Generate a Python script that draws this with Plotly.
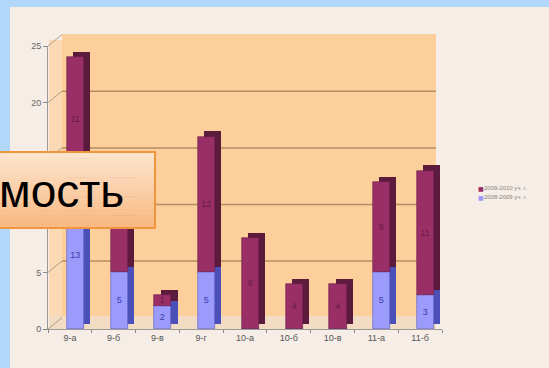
import plotly.graph_objects as go

# ---- data ----
categories = ["9-а", "9-б", "9-в", "9-г", "10-а", "10-б", "10-в", "11-а", "11-б"]
series_2008 = [13, 5, 2, 5, 0, 0, 0, 5, 3]      # 2008-2009 уч. г. (blue, bottom)
series_2009 = [11, 9, 1, 12, 8, 4, 4, 8, 11]    # 2009-2010 уч. г. (maroon, top)
name_2008 = "2008-2009 уч. г."
name_2009 = "2009-2010 уч. г."
y_ticks = [0, 5, 10, 15, 20, 25]
y_tick_text = ["0", "5", "", "", "20", "25"]   # 10 and 15 are hidden by the title box
grid_vals = [5, 10, 15, 20]

# ---- styling ----
BLUE = "#9b9bfb"
BLUE_SIDE = "#4b4fb8"
MAROON = "#992f66"
MAROON_SIDE = "#5c1a3d"
W = 0.39        # front face width (category units)
OFF = -0.07     # front face offset
DX = 0.14       # depth shift in x
DZ = 0.45       # depth shift in y
YMAX = 25
DEPTH = 1.0     # back wall shift, in value units

base_top = series_2008

fig = go.Figure()

# side / top faces (shadow bars)
fig.add_trace(go.Bar(x=categories, y=series_2008, base=[DZ] * len(categories),
                     offset=OFF + DX, width=W, marker=dict(color=BLUE_SIDE, line=dict(width=0)),
                     showlegend=False, hoverinfo="skip"))
fig.add_trace(go.Bar(x=categories, y=series_2009, base=[b + DZ for b in base_top],
                     offset=OFF + DX, width=W, marker=dict(color=MAROON_SIDE, line=dict(width=0)),
                     showlegend=False, hoverinfo="skip"))

# front faces
fig.add_trace(go.Bar(x=categories, y=series_2008, base=[0] * len(categories), name=name_2008,
                     offset=OFF, width=W, marker=dict(color=BLUE, line=dict(width=0.6, color="#5a5ac0")),
                     text=[str(v) if v else "" for v in series_2008],
                     textposition="inside", insidetextanchor="middle", textangle=0,
                     textfont=dict(size=9, color="#3c3cb0", family="Liberation Sans"),
                     showlegend=False))
fig.add_trace(go.Bar(x=categories, y=series_2009, base=base_top, name=name_2009,
                     offset=OFF, width=W, marker=dict(color=MAROON, line=dict(width=0.6, color="#6a1f47")),
                     text=[str(v) if v else "" for v in series_2009],
                     textposition="inside", insidetextanchor="middle", textangle=0,
                     textfont=dict(size=9, color="#6a1c45", family="Liberation Sans"),
                     showlegend=False))

# geometry helpers (pixel -> paper)
L, R, T, B = 48, 107, 46, 39
PW = 549 - L - R
PH = 368 - T - B
def px(x):
    return (x - L) / PW
def py(y):
    return (368 - B - y) / PH

shapes = []
# inner slide panel
shapes.append(dict(type="rect", xref="paper", yref="paper", x0=px(10), x1=px(560),
                   y0=py(380), y1=py(7), fillcolor="#f5ede6", line=dict(width=0), layer="below"))
# back wall
shapes.append(dict(type="rect", xref="paper", yref="paper", x0=px(62), x1=px(436),
                   y0=py(316), y1=py(34), fillcolor="#fdcf9a", line=dict(width=0), layer="below"))
# left wall strip
shapes.append(dict(type="rect", xref="paper", yref="paper", x0=px(49), x1=px(62),
                   y0=py(326), y1=py(40), fillcolor="#fbd9b4", line=dict(width=0), layer="below"))
# floor
shapes.append(dict(type="rect", xref="paper", yref="paper", x0=px(49), x1=px(436),
                   y0=py(329), y1=py(316), fillcolor="#f3dcc4", line=dict(width=0), layer="below"))

# back-wall gridlines and the diagonal connectors from the front axis ticks
for v in grid_vals:
    yb = (v + DEPTH) / YMAX
    yf = v / YMAX
    shapes.append(dict(type="line", xref="paper", yref="paper", x0=px(62), x1=px(436),
                       y0=yb, y1=yb, line=dict(color="#b58d64", width=1.5), layer="below"))
for v in y_ticks:
    yb = (v + DEPTH) / YMAX
    yf = v / YMAX
    shapes.append(dict(type="line", xref="paper", yref="paper", x0=0, x1=px(62),
                       y0=yf, y1=yb, line=dict(color="#a08a78", width=0.8), layer="below"))

# overlay title box with a vertical gradient
top_c = (253, 230, 208)
bot_c = (249, 184, 128)
y_top, y_bot = 152, 228
n = 12
for i in range(n):
    t = (i + 0.5) / n
    c = tuple(int(top_c[k] + (bot_c[k] - top_c[k]) * t) for k in range(3))
    ya = y_top + (y_bot - y_top) * i / n
    yb2 = y_top + (y_bot - y_top) * (i + 1) / n
    shapes.append(dict(type="rect", xref="paper", yref="paper", x0=px(-5), x1=px(155),
                       y0=py(yb2 + 0.5), y1=py(ya), fillcolor="rgb(%d,%d,%d)" % c,
                       line=dict(width=0), layer="above"))
shapes.append(dict(type="rect", xref="paper", yref="paper", x0=px(-5), x1=px(155),
                   y0=py(y_bot), y1=py(y_top), fillcolor="rgba(0,0,0,0)",
                   line=dict(width=2, color="#f0963f"), layer="above"))

# legend drawn as tiny text entries (maroon first, like the reference)
legend_items = [(name_2009, MAROON), (name_2008, BLUE)]
annotations = []
for i, (nm, col) in enumerate(legend_items):
    yy = py(188 + 9 * i)
    annotations.append(dict(text="■", xref="paper", yref="paper", x=px(476), y=yy,
                            xanchor="left", yanchor="middle", showarrow=False,
                            font=dict(size=6, color=col, family="DejaVu Sans")))
    annotations.append(dict(text=nm, xref="paper", yref="paper", x=px(482), y=yy,
                            xanchor="left", yanchor="middle", showarrow=False,
                            font=dict(size=6, color="#8a8580", family="Liberation Sans")))

annotations.append(dict(text="мость", xref="paper", yref="paper", x=px(126), y=py(191),
                        xanchor="right", yanchor="middle", showarrow=False,
                        font=dict(size=46, color="#000000", family="Liberation Sans")))

fig.update_layout(
    width=549, height=368,
    margin=dict(l=L, r=R, t=T, b=B, autoexpand=False),
    paper_bgcolor="#b1d7fb",
    plot_bgcolor="rgba(0,0,0,0)",
    barmode="overlay",
    bargap=0,
    showlegend=False,
    uniformtext=dict(minsize=8, mode="show"),
    xaxis=dict(type="category", categoryorder="array", categoryarray=categories,
               range=[-0.5, len(categories) - 0.5], tickson="boundaries",
               showgrid=False, ticks="outside", ticklen=3, tickcolor="#888888",
               showline=True, linecolor="#999999", linewidth=1,
               tickfont=dict(size=9, color="#555555", family="Liberation Sans")),
    yaxis=dict(range=[0, YMAX], tickvals=y_ticks, ticktext=y_tick_text,
               showgrid=False, zeroline=False,
               ticks="outside", ticklen=4, tickcolor="#888888",
               showline=True, linecolor="#999999", linewidth=1,
               tickfont=dict(size=9, color="#666666", family="Liberation Sans")),
    shapes=shapes,
    annotations=annotations,
)

fig.write_html("out.html")
